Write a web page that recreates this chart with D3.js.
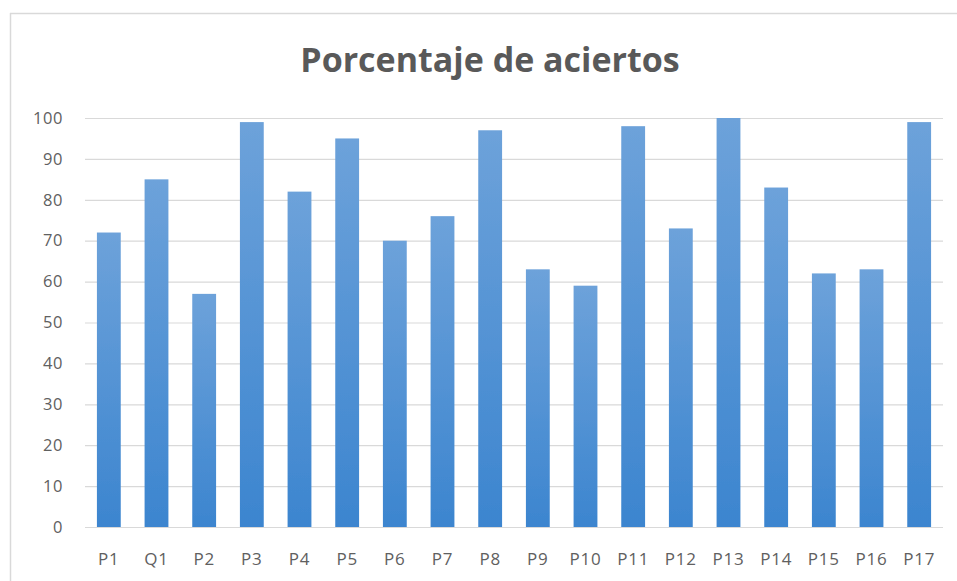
<!DOCTYPE html>
<html>
<head>
<meta charset="utf-8">
<script src="https://cdn.jsdelivr.net/npm/d3@7"></script>
<style>
  html, body { margin: 0; padding: 0; background: #fff; }
  svg { display: block; }
</style>
</head>
<body>
<svg id="chart" width="957" height="581"></svg>
<script>
const title = "Porcentaje de aciertos";
const categories = ["P1","Q1","P2","P3","P4","P5","P6","P7","P8","P9","P10","P11","P12","P13","P14","P15","P16","P17"];
const values = [72, 85, 57, 99, 82, 95, 70, 76, 97, 63, 59, 98, 73, 100, 83, 62, 63, 99];
const yTicks = [0, 10, 20, 30, 40, 50, 60, 70, 80, 90, 100];

const W = 957, H = 581;
const margin = { left: 85, right: 14, top: 118, bottom: 54 };
const svg = d3.select("#chart");

// gradient for bars
const defs = svg.append("defs");
const grad = defs.append("linearGradient").attr("id", "barGrad")
  .attr("x1", 0).attr("y1", 0).attr("x2", 0).attr("y2", 1);
grad.append("stop").attr("offset", "0%").attr("stop-color", "#6da2da");
grad.append("stop").attr("offset", "100%").attr("stop-color", "#3c85cf");
const blur = defs.append("filter").attr("id", "soft")
  .attr("x", "-20%").attr("y", "-5%").attr("width", "140%").attr("height", "110%");
blur.append("feGaussianBlur").attr("stdDeviation", 0.6);

// chart border (top and left visible)
svg.append("line").attr("x1", 10).attr("x2", W).attr("y1", 13.5).attr("y2", 13.5)
  .attr("stroke", "#d9d9d9").attr("stroke-width", 1.5);
svg.append("line").attr("x1", 10.5).attr("x2", 10.5).attr("y1", 13).attr("y2", H)
  .attr("stroke", "#d9d9d9").attr("stroke-width", 1.5);

// title
svg.append("text")
  .attr("x", 490).attr("y", 72)
  .attr("text-anchor", "middle")
  .attr("font-family", "'Open Sans', sans-serif")
  .attr("font-weight", "bold")
  .attr("font-size", 34)
  .attr("fill", "#595959")
  .text(title);

const x = d3.scaleBand()
  .domain(categories)
  .range([margin.left, W - margin.right])
  .paddingInner(0.5)
  .paddingOuter(0.25);

const y = d3.scaleLinear()
  .domain([0, 100])
  .range([H - margin.bottom, margin.top]);

// gridlines
const yAxis = d3.axisLeft(y).tickValues(yTicks).tickSize(-(W - margin.right - margin.left)).tickPadding(22);
const gy = svg.append("g").attr("transform", `translate(${margin.left},0)`).call(yAxis);
gy.select(".domain").remove();
gy.selectAll(".tick line").attr("stroke", "#d9d9d9").attr("stroke-width", 1.2);
gy.selectAll(".tick text")
  .attr("font-family", "'Open Sans', sans-serif")
  .attr("font-size", 16.5)
  .attr("letter-spacing", 0.6)
  .attr("fill", "#606060");

// bars
svg.append("g").selectAll("rect")
  .data(values)
  .join("rect")
  .attr("x", (d, i) => x(categories[i]))
  .attr("width", x.bandwidth())
  .attr("y", d => y(d))
  .attr("height", d => y(0) - y(d))
  .attr("fill", "url(#barGrad)")
  .attr("filter", "url(#soft)");

// x axis
const xAxis = d3.axisBottom(x).tickSize(0).tickPadding(26);
const gx = svg.append("g").attr("transform", `translate(0,${y(0)})`).call(xAxis);
gx.select(".domain").attr("stroke", "#d9d9d9").attr("stroke-width", 1.2)
  .attr("d", `M${margin.left},0.5H${W - margin.right}`);
gx.selectAll(".tick text")
  .attr("font-family", "'Open Sans', sans-serif")
  .attr("font-size", 17)
  .attr("letter-spacing", 0.8)
  .attr("fill", "#606060");
</script>
</body>
</html>
